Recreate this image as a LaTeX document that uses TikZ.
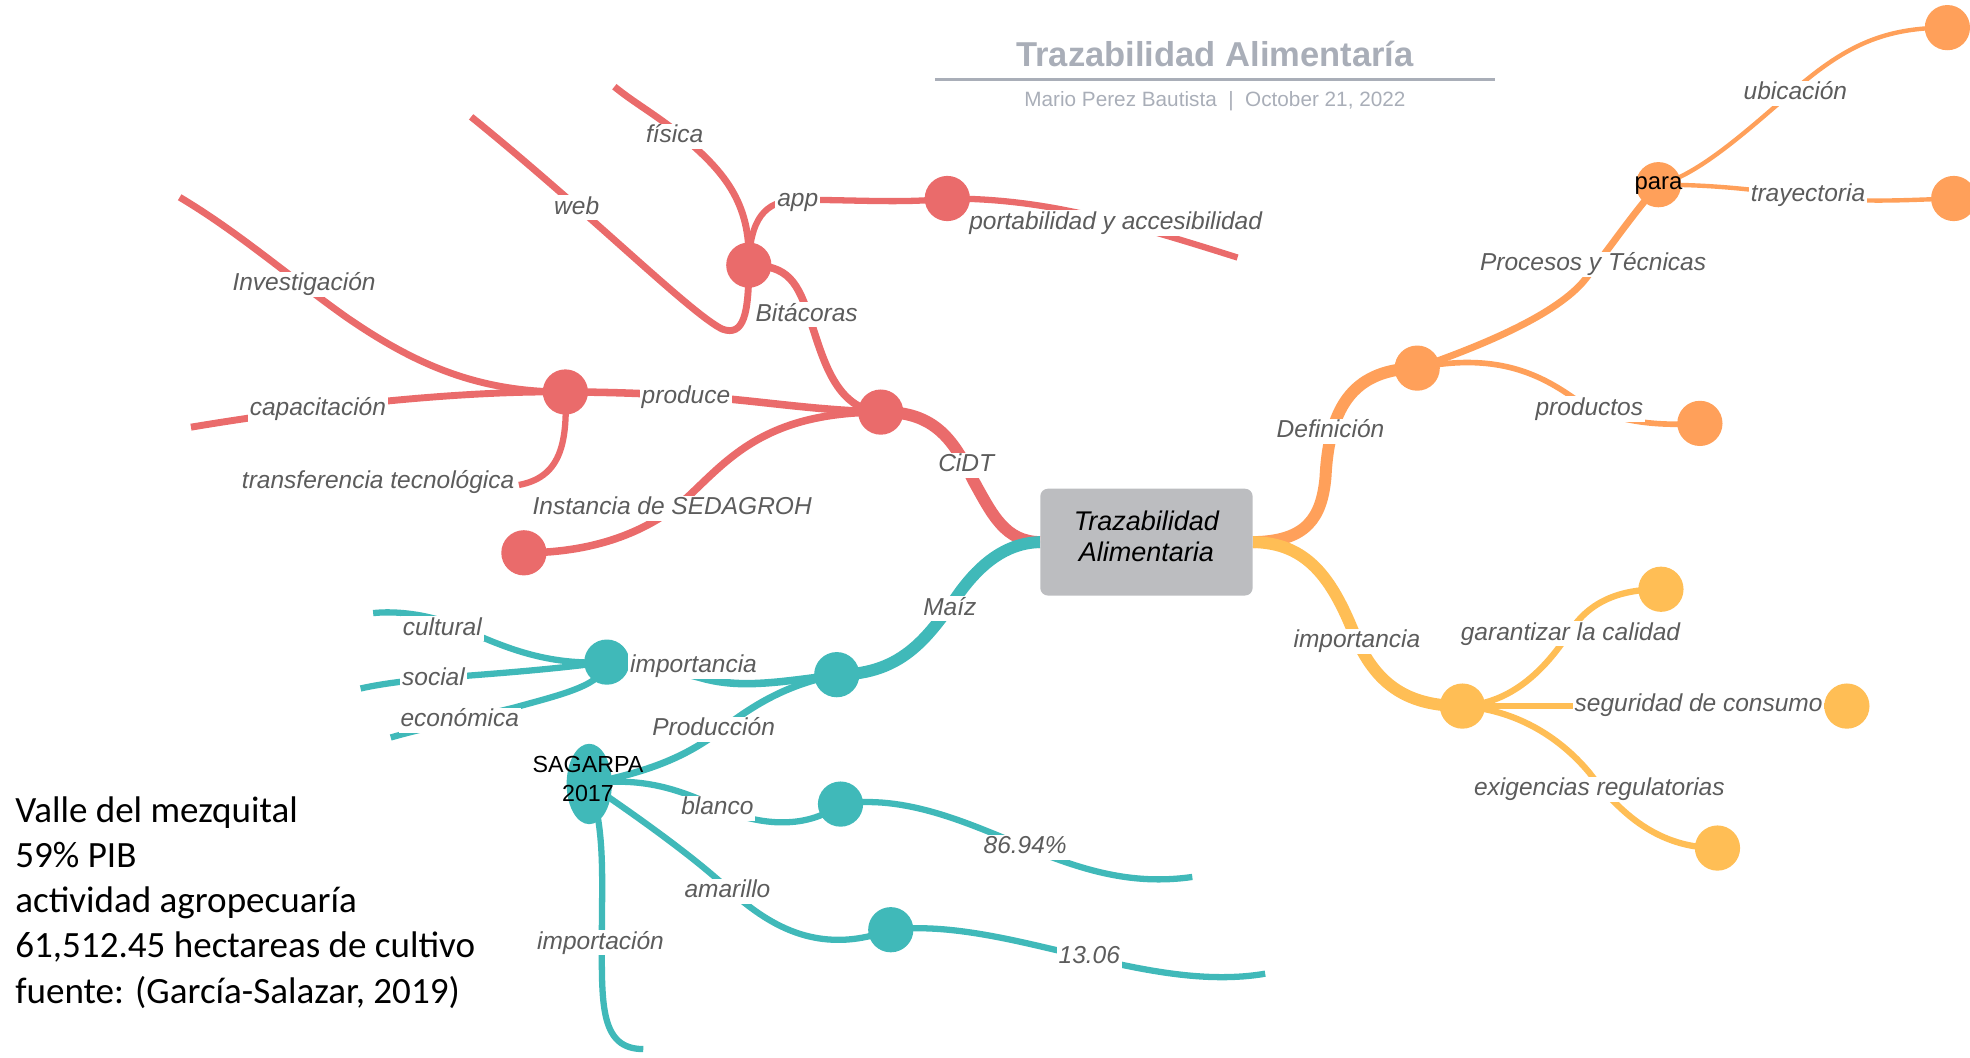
\documentclass[tikz,border=0pt]{standalone}
\usepackage{fontspec}
\setmainfont{Liberation Sans}
\newfontfamily\carl{Carlito}
\usetikzlibrary{shapes.geometric}
\definecolor{mmred}{RGB}{234,107,107}
\definecolor{mmorange}{RGB}{255,160,90}
\definecolor{mmyellow}{RGB}{255,190,85}
\definecolor{mmteal}{RGB}{64,185,185}
\definecolor{lblgray}{RGB}{92,92,92}
\definecolor{boxgray}{RGB}{188,189,192}
\definecolor{titlegray}{RGB}{169,174,184}
\pgfdeclarelayer{bg}
\pgfsetlayers{bg,main}
\begin{document}
\begin{tikzpicture}[x=1pt,y=-1pt,
  lbl/.style={font=\fontsize{19.5}{23}\selectfont\itshape, text=lblgray, fill=white, inner xsep=1.5pt, inner ysep=1pt, text height=14pt, text depth=4pt, yshift=-2.5pt},
  hub/.style={circle, minimum size=36pt, inner sep=0pt},
  conn/.style={line width=#1},
  side/.style={font=\carl\fontsize{29.5}{36}\selectfont, anchor=base west, inner sep=0pt},
  boxtxt/.style={font=\itshape\fontsize{21.5}{25}\selectfont, anchor=base, inner sep=0pt},
  hubtxt/.style={font=\fontsize{18.5}{22}\selectfont, anchor=base, inner sep=0pt},
]
\useasboundingbox (0,0) rectangle (1568,842);

% title
\node[font=\bfseries\fontsize{27.5}{33}\selectfont, text=titlegray, anchor=base, inner sep=0pt] (title) at (967,53) {Trazabilidad Alimentaría};
\coordinate (ulA) at (744,63);
\coordinate (ulB) at (1190,63);
\draw[titlegray, line width=2.2pt] (ulA) -- (ulB);
\node[font=\fontsize{16.5}{20}\selectfont, text=titlegray, anchor=base, inner sep=0pt] (subtitle) at (967,85) {Mario Perez Bautista \ | \ October 21, 2022};

% central box
\node[fill=boxgray, rounded corners=6pt, minimum width=169pt, minimum height=85pt, inner sep=0pt] (box) at (912.5,431.5) {};
\node[boxtxt] (boxt1) at (912.5,422) {Trazabilidad};
\node[boxtxt] (boxt2) at (912.5,447) {Alimentaria};

% hubs
\node[hub, fill=mmred] (r1) at (701,328) {};
\node[hub, fill=mmred] (r2) at (450,312) {};
\node[hub, fill=mmred] (r3) at (596,211) {};
\node[hub, fill=mmred] (r4) at (754,158) {};
\node[hub, fill=mmred] (r5) at (417,440) {};
\node[hub, fill=mmorange] (o1) at (1128,293) {};
\node[hub, fill=mmorange] (o2) at (1320,147) {};
\node[hub, fill=mmorange] (o3) at (1550,22) {};
\node[hub, fill=mmorange] (o4) at (1555,158) {};
\node[hub, fill=mmorange] (o5) at (1353,337) {};
\node[hub, fill=mmyellow] (y1) at (1164,562) {};
\node[hub, fill=mmyellow] (y2) at (1322,469) {};
\node[hub, fill=mmyellow] (y3) at (1470,562) {};
\node[hub, fill=mmyellow] (y4) at (1367,675) {};
\node[hub, fill=mmteal] (t1) at (666,537) {};
\node[hub, fill=mmteal] (t2) at (483,527) {};
\node[ellipse, fill=mmteal, minimum width=36pt, minimum height=64pt, inner sep=0pt] (t3) at (469,624) {};
\node[hub, fill=mmteal] (t4) at (669,640) {};
\node[hub, fill=mmteal] (t5) at (709,740) {};

% free ends
\coordinate (efis) at (489,69);
\coordinate (eweb) at (375,93);
\coordinate (eport) at (985,205);
\coordinate (einv) at (143,157);
\coordinate (ecap) at (152,340);
\coordinate (etra) at (413,386);
\coordinate (ecul) at (297,488);
\coordinate (esoc) at (287,548);
\coordinate (eeco) at (311,587);
\coordinate (e86) at (949,698);
\coordinate (e13) at (1007,775);
\coordinate (eimp) at (512,835);

% labels
\node[lbl] (lfis) at (537,106) {física};
\node[lbl] (lweb) at (459,163) {web};
\node[lbl] (lapp) at (635,157) {app};
\node[lbl] (lport) at (888,175) {portabilidad y accesibilidad};
\node[lbl] (linv) at (242,224) {Investigación};
\node[lbl] (lbit) at (642,248) {Bitácoras};
\node[lbl] (lcap) at (253,323) {capacitación};
\node[lbl] (lpro) at (546,314) {produce};
\node[lbl] (ltra) at (301,381) {transferencia tecnológica};
\node[lbl] (lcidt) at (769,368) {CiDT};
\node[lbl] (lsed) at (535,402) {Instancia de SEDAGROH};
\node[lbl] (lproc) at (1268,208) {Procesos y Técnicas};
\node[lbl] (lubi) at (1429,72) {ubicación};
\node[lbl] (ltray) at (1439,153) {trayectoria};
\node[lbl] (lprod) at (1265,323) {productos};
\node[lbl] (ldef) at (1059,341) {Definición};
\node[lbl] (limpy) at (1080,508) {importancia};
\node[lbl] (lgar) at (1250,502) {garantizar la calidad};
\node[lbl] (lseg) at (1352,559) {seguridad de consumo};
\node[lbl] (lexi) at (1273,626) {exigencias regulatorias};
\node[lbl] (lmaiz) at (756,482) {Maíz};
\node[lbl] (lcul) at (352,498) {cultural};
\node[lbl] (limpt) at (552,528) {importancia};
\node[lbl] (lsoc) at (345,538) {social};
\node[lbl] (leco) at (366,571) {económica};
\node[lbl] (lprodc) at (568,578) {Producción};
\node[lbl] (lbla) at (571,641) {blanco};
\node[lbl] (l86) at (816,672) {86.94\%};
\node[lbl] (lama) at (579,707) {amarillo};
\node[lbl] (l13) at (867,759) {13.06};
\node[lbl] (limp) at (478,748) {importación};

% texts on hubs
\node[hubtxt, font=\fontsize{19}{22}\selectfont] (para) at (1320,151) {para};
\node[hubtxt] (sag1) at (468,615) {SAGARPA};
\node[hubtxt] (sag2) at (468,638) {2017};

% side note
\node[side] (s1) at (12,654.5) {Valle del mezquital};
\node[side] (s2) at (12,690.5) {59\% PIB};
\node[side] (s3) at (12,726.5) {actividad agropecuaría};
\node[side] (s4) at (12,762.5) {61,512.45 hectareas de cultivo};
\node[side] (s5) at (12,798.5) {fuente: (García-Salazar, 2019)};

\begin{pgfonlayer}{bg}
% red
\draw[mmred, conn=9.5pt] (box.west) .. controls (800,431) and (790,410) .. (775,383) .. controls (760,352) and (745,327) .. (r1.center);
\draw[mmred, conn=6pt] (r1.center) .. controls (640,326) and (600,318) .. (546,315) .. controls (510,313) and (480,312) .. (r2.center);
\draw[mmred, conn=6pt] (r1.center) .. controls (610,328) and (580,365) .. (548,395) .. controls (515,425) and (470,440) .. (r5.center);
\draw[mmred, conn=6pt] (r1.center) .. controls (665,326) and (655,285) .. (645,255) .. controls (635,225) and (628,211) .. (r3.center);
\draw[mmred, conn=5pt] (r3.center) .. controls (597,175) and (608,160) .. (634,159) .. controls (680,159) and (720,162) .. (r4.center);
\draw[mmred, conn=5.5pt] (r3.center) .. controls (598,160) and (575,135) .. (540,106) .. controls (520,90) and (505,82) .. (efis);
\draw[mmred, conn=5.5pt] (r3.center) .. controls (596,250) and (592,268) .. (575,262) .. controls (550,250) and (470,170) .. (eweb);
\draw[mmred, conn=5pt] (r4.center) .. controls (830,158) and (890,175) .. (eport);
\draw[mmred, conn=5.5pt] (r2.center) .. controls (380,312) and (330,290) .. (275,252) .. controls (230,220) and (190,185) .. (einv);
\draw[mmred, conn=5.5pt] (r2.center) .. controls (370,311) and (260,322) .. (ecap);
\draw[mmred, conn=5pt] (r2.center) .. controls (452,355) and (445,380) .. (etra);
% orange
\draw[mmorange, conn=9.5pt] (box.east) .. controls (1040,431) and (1052,412) .. (1055,380) .. controls (1058,320) and (1080,294) .. (o1.center);
\draw[mmorange, conn=5.5pt] (o1.center) .. controls (1180,275) and (1240,250) .. (1262,222) .. controls (1285,192) and (1300,170) .. (o2.center);
\draw[mmorange, conn=4.5pt] (o1.center) .. controls (1190,280) and (1225,298) .. (1250,315) .. controls (1275,333) and (1310,340) .. (o5.center);
\draw[mmorange, conn=3.5pt] (o2.center) .. controls (1352,140) and (1395,100) .. (1430,70) .. controls (1470,36) and (1500,22) .. (o3.center);
\draw[mmorange, conn=3.5pt] (o2.center) .. controls (1370,147) and (1400,152) .. (1439,156) .. controls (1480,162) and (1520,159) .. (o4.center);
% yellow
\draw[mmyellow, conn=9.5pt] (box.east) .. controls (1040,432) and (1060,460) .. (1078,505) .. controls (1095,545) and (1120,562) .. (y1.center);
\draw[mmyellow, conn=5pt] (y1.center) .. controls (1205,560) and (1232,530) .. (1250,502) .. controls (1266,478) and (1290,469) .. (y2.center);
\draw[mmyellow, conn=5pt] (y1.center) -- (y3.center);
\draw[mmyellow, conn=5pt] (y1.center) .. controls (1205,565) and (1240,585) .. (1265,615) .. controls (1290,648) and (1320,675) .. (y4.center);
% teal
\draw[mmteal, conn=9.5pt] (box.west) .. controls (800,432) and (780,450) .. (765,470) .. controls (740,505) and (720,537) .. (t1.center);
\draw[mmteal, conn=6pt] (t1.center) .. controls (620,543) and (590,548) .. (560,540) .. controls (530,532) and (510,527) .. (t2.center);
\draw[mmteal, conn=5.5pt] (t1.center) .. controls (625,545) and (598,562) .. (570,584) .. controls (540,606) and (510,615) .. (t3.center);
\draw[mmteal, conn=5pt] (t2.center) .. controls (430,530) and (395,512) .. (360,497) .. controls (340,489) and (315,486) .. (ecul);
\draw[mmteal, conn=5pt] (t2.center) .. controls (430,534) and (380,537) .. (345,540) .. controls (320,542) and (300,545) .. (esoc);
\draw[mmteal, conn=5pt] (t2.center) .. controls (480,545) and (450,552) .. (410,563) .. controls (370,573) and (335,580) .. (eeco);
\draw[mmteal, conn=5pt] (t3.center) .. controls (510,618) and (540,628) .. (570,642) .. controls (600,656) and (640,662) .. (t4.center);
\draw[mmteal, conn=5pt] (t4.center) .. controls (720,632) and (770,655) .. (816,674) .. controls (860,692) and (900,705) .. (e86);
\draw[mmteal, conn=5pt] (t3.center) .. controls (500,645) and (550,680) .. (579,707) .. controls (610,735) and (650,762) .. (t5.center);
\draw[mmteal, conn=5pt] (t5.center) .. controls (760,734) and (820,752) .. (866,762) .. controls (910,772) and (960,783) .. (e13);
\draw[mmteal, conn=5pt] (t3.center) .. controls (482,660) and (479,700) .. (479,750) .. controls (479,800) and (478,835) .. (eimp);
\end{pgfonlayer}
\end{tikzpicture}
\end{document}
